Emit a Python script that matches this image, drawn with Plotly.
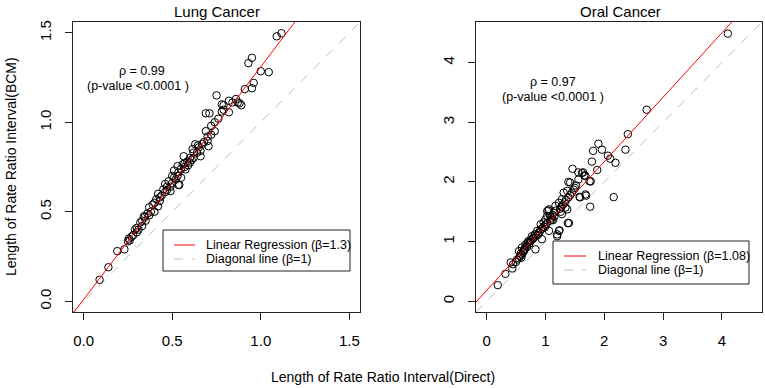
import plotly.graph_objects as go

# ---------------- data ----------------
lung_direct = [0.09, 0.14, 0.19, 0.23, 0.25, 0.255, 0.27, 0.26, 0.28, 0.29, 0.30, 0.31, 0.32, 0.33,
               0.34, 0.345, 0.35, 0.36, 0.37, 0.38, 0.39, 0.40, 0.41, 0.42, 0.42, 0.43, 0.44, 0.45,
               0.46, 0.46, 0.47, 0.48, 0.49, 0.49, 0.50, 0.50, 0.51, 0.52, 0.53, 0.535, 0.535, 0.54,
               0.55, 0.55, 0.56, 0.565, 0.57, 0.575, 0.585, 0.59, 0.60, 0.60, 0.615, 0.62, 0.63, 0.64,
               0.65, 0.66, 0.66, 0.68, 0.69, 0.70, 0.705, 0.69, 0.71, 0.72, 0.74, 0.75, 0.78, 0.78,
               0.79, 0.79, 0.82, 0.82, 0.84, 0.86, 0.87, 0.88, 0.89, 0.91, 0.93, 0.95, 0.95, 0.96,
               1.00, 1.045, 1.09, 1.117,
               0.30, 0.33, 0.37, 0.40, 0.43, 0.47, 0.51, 0.53, 0.57, 0.61, 0.62, 0.645, 0.67, 0.70,
               0.72, 0.74, 0.76]
lung_bcm = [0.12, 0.19, 0.28, 0.29, 0.335, 0.35, 0.36, 0.34, 0.37, 0.40, 0.385, 0.40, 0.44, 0.42,
            0.475, 0.47, 0.45, 0.49, 0.525, 0.50, 0.54, 0.50, 0.57, 0.53, 0.60, 0.58, 0.59, 0.625,
            0.655, 0.61, 0.64, 0.67, 0.615, 0.64, 0.70, 0.66, 0.73, 0.68, 0.755, 0.72, 0.65, 0.65,
            0.69, 0.74, 0.765, 0.81, 0.75, 0.737, 0.78, 0.76, 0.775, 0.80, 0.85, 0.80, 0.877, 0.83,
            0.86, 0.84, 0.81, 0.89, 0.95, 0.895, 0.866, 1.05, 1.05, 0.98, 0.95, 1.15, 1.10, 1.06,
            1.07, 1.095, 1.12, 1.056, 1.11, 1.13, 1.11, 1.106, 1.095, 1.185, 1.33, 1.36, 1.19, 1.22,
            1.285, 1.28, 1.48, 1.497,
            0.41, 0.45, 0.48, 0.55, 0.56, 0.62, 0.69, 0.70, 0.77, 0.79, 0.83, 0.87, 0.88, 0.92,
            0.93, 1.00, 1.02]

oral_direct = [0.19, 0.32, 0.435, 0.45, 0.41, 0.50, 0.52, 0.55, 0.57, 0.59, 0.55, 0.58, 0.60, 0.62,
               0.63, 0.65, 0.66, 0.68, 0.70, 0.71, 0.73, 0.75, 0.77, 0.78, 0.80, 0.83, 0.82, 0.84,
               0.86, 0.88, 0.90, 0.92, 0.92, 0.94, 0.95, 0.97, 0.97, 1.00, 1.00, 1.02, 1.03, 1.03,
               1.05, 1.06, 1.06, 1.08, 1.08, 1.10, 1.11, 1.12, 1.14, 1.15, 1.17, 1.18, 1.20, 1.20,
               1.23, 1.23, 1.24, 1.25, 1.27, 1.28, 1.28, 1.30, 1.31, 1.33, 1.35, 1.37, 1.37, 1.38,
               1.39, 1.39, 1.40, 1.42, 1.42, 1.45, 1.46, 1.48, 1.50, 1.52, 1.56, 1.56, 1.58, 1.59,
               1.62, 1.64, 1.66, 1.68, 1.68, 1.69, 1.75, 1.76, 1.77, 1.79, 1.81, 1.88, 1.90, 1.96,
               2.06, 2.10, 2.16, 2.19, 2.36, 2.40, 2.72, 4.10,
               0.60, 0.64, 0.69, 0.74, 0.79, 0.87, 0.99, 1.13, 1.26, 1.34]
oral_bcm = [0.27, 0.46, 0.55, 0.62, 0.65, 0.66, 0.70, 0.72, 0.76, 0.73, 0.84, 0.80, 0.90, 0.82,
            0.86, 0.88, 0.95, 0.93, 0.98, 1.01, 0.97, 1.02, 1.09, 1.04, 1.06, 0.87, 1.12, 1.10,
            1.18, 1.14, 1.16, 1.29, 1.205, 1.04, 1.22, 1.32, 1.25, 1.37, 1.28, 1.30, 1.43, 1.51,
            1.52, 1.54, 1.18, 1.43, 1.35, 1.40, 1.37, 1.45, 1.48, 1.42, 1.60, 1.52, 1.09, 1.12,
            1.18, 1.65, 1.19, 1.55, 1.58, 1.71, 1.46, 1.62, 1.82, 1.66, 1.70, 1.85, 1.54, 1.31,
            1.74, 2.00, 1.31, 1.99, 1.78, 1.82, 2.22, 1.87, 1.90, 1.94, 2.04, 2.16, 1.75, 1.74,
            2.15, 2.16, 2.11, 2.10, 1.79, 1.77, 2.01, 1.585, 2.01, 2.34, 2.52, 2.20, 2.64, 2.54,
            2.44, 2.39, 1.745, 2.32, 2.54, 2.80, 3.21, 4.485,
            0.78, 0.85, 0.91, 1.00, 1.06, 1.11, 1.24, 1.36, 1.50, 1.57]

lung_slope, lung_intercept = 1.3, 0.01
oral_slope, oral_intercept = 1.08, 0.18
lung_range = [-0.06, 1.56]
oral_range = [-0.18, 4.68]
lung_ticks = [0.0, 0.5, 1.0, 1.5]
lung_ticktext = ["0.0", "0.5", "1.0", "1.5"]
oral_ticks = [0, 1, 2, 3, 4]
oral_ticktext = ["0", "1", "2", "3", "4"]
titles = ["Lung Cancer", "Oral Cancer"]
rho_texts = ["\u03c1 = 0.99", "\u03c1 = 0.97"]
pval_text = "(p-value <0.0001 )"
legend_reg = ["Linear Regression (\u03b2=1.3)", "Linear Regression (\u03b2=1.08)"]
legend_diag = "Diagonal line (\u03b2=1)"
xlabel = "Length of Rate Ratio Interval(Direct)"
ylabel = "Length of Rate Ratio Interval(BCM)"

# ---------------- figure ----------------
W, H = 765, 388
FONT = "Liberation Sans, Arial, sans-serif"


def px(x):
    return x / W


def py(y):
    return 1 - y / H


fig = go.Figure()

panels = [
    dict(xa="x", ya="y", xd=lung_direct, yd=lung_bcm, slope=lung_slope, icpt=lung_intercept, rng=lung_range),
    dict(xa="x2", ya="y2", xd=oral_direct, yd=oral_bcm, slope=oral_slope, icpt=oral_intercept, rng=oral_range),
]

for p in panels:
    fig.add_trace(go.Scatter(x=p["rng"], y=p["rng"], mode="lines", xaxis=p["xa"], yaxis=p["ya"],
                             line=dict(color="#BEBEBE", width=1, dash="dash"), showlegend=False,
                             hoverinfo="skip"))
    fig.add_trace(go.Scatter(x=p["xd"], y=p["yd"], mode="markers", xaxis=p["xa"], yaxis=p["ya"],
                             marker=dict(symbol="circle-open", size=7.5, color="black",
                                         line=dict(color="black", width=1)),
                             showlegend=False))
    rx = p["rng"]
    ry = [p["icpt"] + p["slope"] * v for v in rx]
    fig.add_trace(go.Scatter(x=rx, y=ry, mode="lines", xaxis=p["xa"], yaxis=p["ya"],
                             line=dict(color="red", width=1), showlegend=False, hoverinfo="skip"))

axis_common = dict(showline=True, mirror=True, linecolor="#222", linewidth=1, showgrid=False,
                   zeroline=False, ticks="outside", ticklen=7, tickcolor="#222", tickwidth=1,
                   tickfont=dict(family=FONT, size=15, color="black"), automargin=False)

fig.update_layout(
    width=W, height=H, margin=dict(l=0, r=0, t=0, b=0),
    paper_bgcolor="white", plot_bgcolor="white", showlegend=False,
    font=dict(family=FONT, color="black"),
    xaxis=dict(domain=[px(73), px(360)], range=lung_range, tickvals=lung_ticks, ticktext=lung_ticktext,
               anchor="y", ticklabelstandoff=8, **axis_common),
    yaxis=dict(domain=[py(312), py(22)], range=lung_range, tickvals=lung_ticks, ticktext=lung_ticktext,
               anchor="x", tickangle=-90, ticklabelstandoff=8, **axis_common),
    xaxis2=dict(domain=[px(476), px(762)], range=oral_range, tickvals=oral_ticks, ticktext=oral_ticktext,
                anchor="y2", ticklabelstandoff=8, **axis_common),
    yaxis2=dict(domain=[py(312), py(22)], range=oral_range, tickvals=oral_ticks, ticktext=oral_ticktext,
                anchor="x2", tickangle=-90, ticklabelstandoff=8, **axis_common),
)

ann = []
for t, cx in zip(titles, [217, 620]):
    ann.append(dict(text=t, x=px(cx), y=py(11), xref="paper", yref="paper", showarrow=False,
                    xanchor="center", yanchor="middle", font=dict(size=15, family=FONT)))
ann.append(dict(text=xlabel, x=px(383), y=py(377), xref="paper", yref="paper", showarrow=False,
                xanchor="center", yanchor="middle", font=dict(size=14, family=FONT)))
ann.append(dict(text=ylabel, x=px(11), y=py(167), xref="paper", yref="paper", showarrow=False,
                xanchor="center", yanchor="middle", textangle=-90, font=dict(size=14, family=FONT)))
for (rt, rc, pc, ry, pyy) in [(rho_texts[0], 142, 138, 71, 86), (rho_texts[1], 553, 553, 82, 97)]:
    ann.append(dict(text=rt, x=px(rc), y=py(ry), xref="paper", yref="paper", showarrow=False,
                    xanchor="center", yanchor="middle", font=dict(size=12.5, family=FONT)))
    ann.append(dict(text=pval_text, x=px(pc), y=py(pyy), xref="paper", yref="paper", showarrow=False,
                    xanchor="center", yanchor="middle", font=dict(size=12.5, family=FONT)))

shapes = []
legends = [(163, 350, 230, 271, 174, 195, 204, 245, 259, legend_reg[0]),
           (553, 749, 241, 284, 564, 586, 596, 256, 270, legend_reg[1])]
for (bx0, bx1, by0, by1, sx0, sx1, tx, r1, r2, lab) in legends:
    shapes.append(dict(type="rect", xref="paper", yref="paper", x0=px(bx0), x1=px(bx1),
                       y0=py(by1), y1=py(by0), line=dict(color="#222", width=1), fillcolor="white",
                       layer="above"))
    shapes.append(dict(type="line", xref="paper", yref="paper", x0=px(sx0), x1=px(sx1),
                       y0=py(r1), y1=py(r1), line=dict(color="red", width=1), layer="above"))
    shapes.append(dict(type="line", xref="paper", yref="paper", x0=px(sx0), x1=px(sx1),
                       y0=py(r2), y1=py(r2), line=dict(color="#BEBEBE", width=1, dash="dash"),
                       layer="above"))
    ann.append(dict(text=lab, x=px(tx), y=py(r1), xref="paper", yref="paper", showarrow=False,
                    xanchor="left", yanchor="middle", font=dict(size=12.5, family=FONT)))
    ann.append(dict(text=legend_diag, x=px(tx), y=py(r2), xref="paper", yref="paper", showarrow=False,
                    xanchor="left", yanchor="middle", font=dict(size=12.5, family=FONT)))

fig.update_layout(annotations=ann, shapes=shapes)
fig.write_html("out.html", config={"displayModeBar": False},
               post_script="document.body.style.margin='0';document.body.style.overflow='hidden';")
